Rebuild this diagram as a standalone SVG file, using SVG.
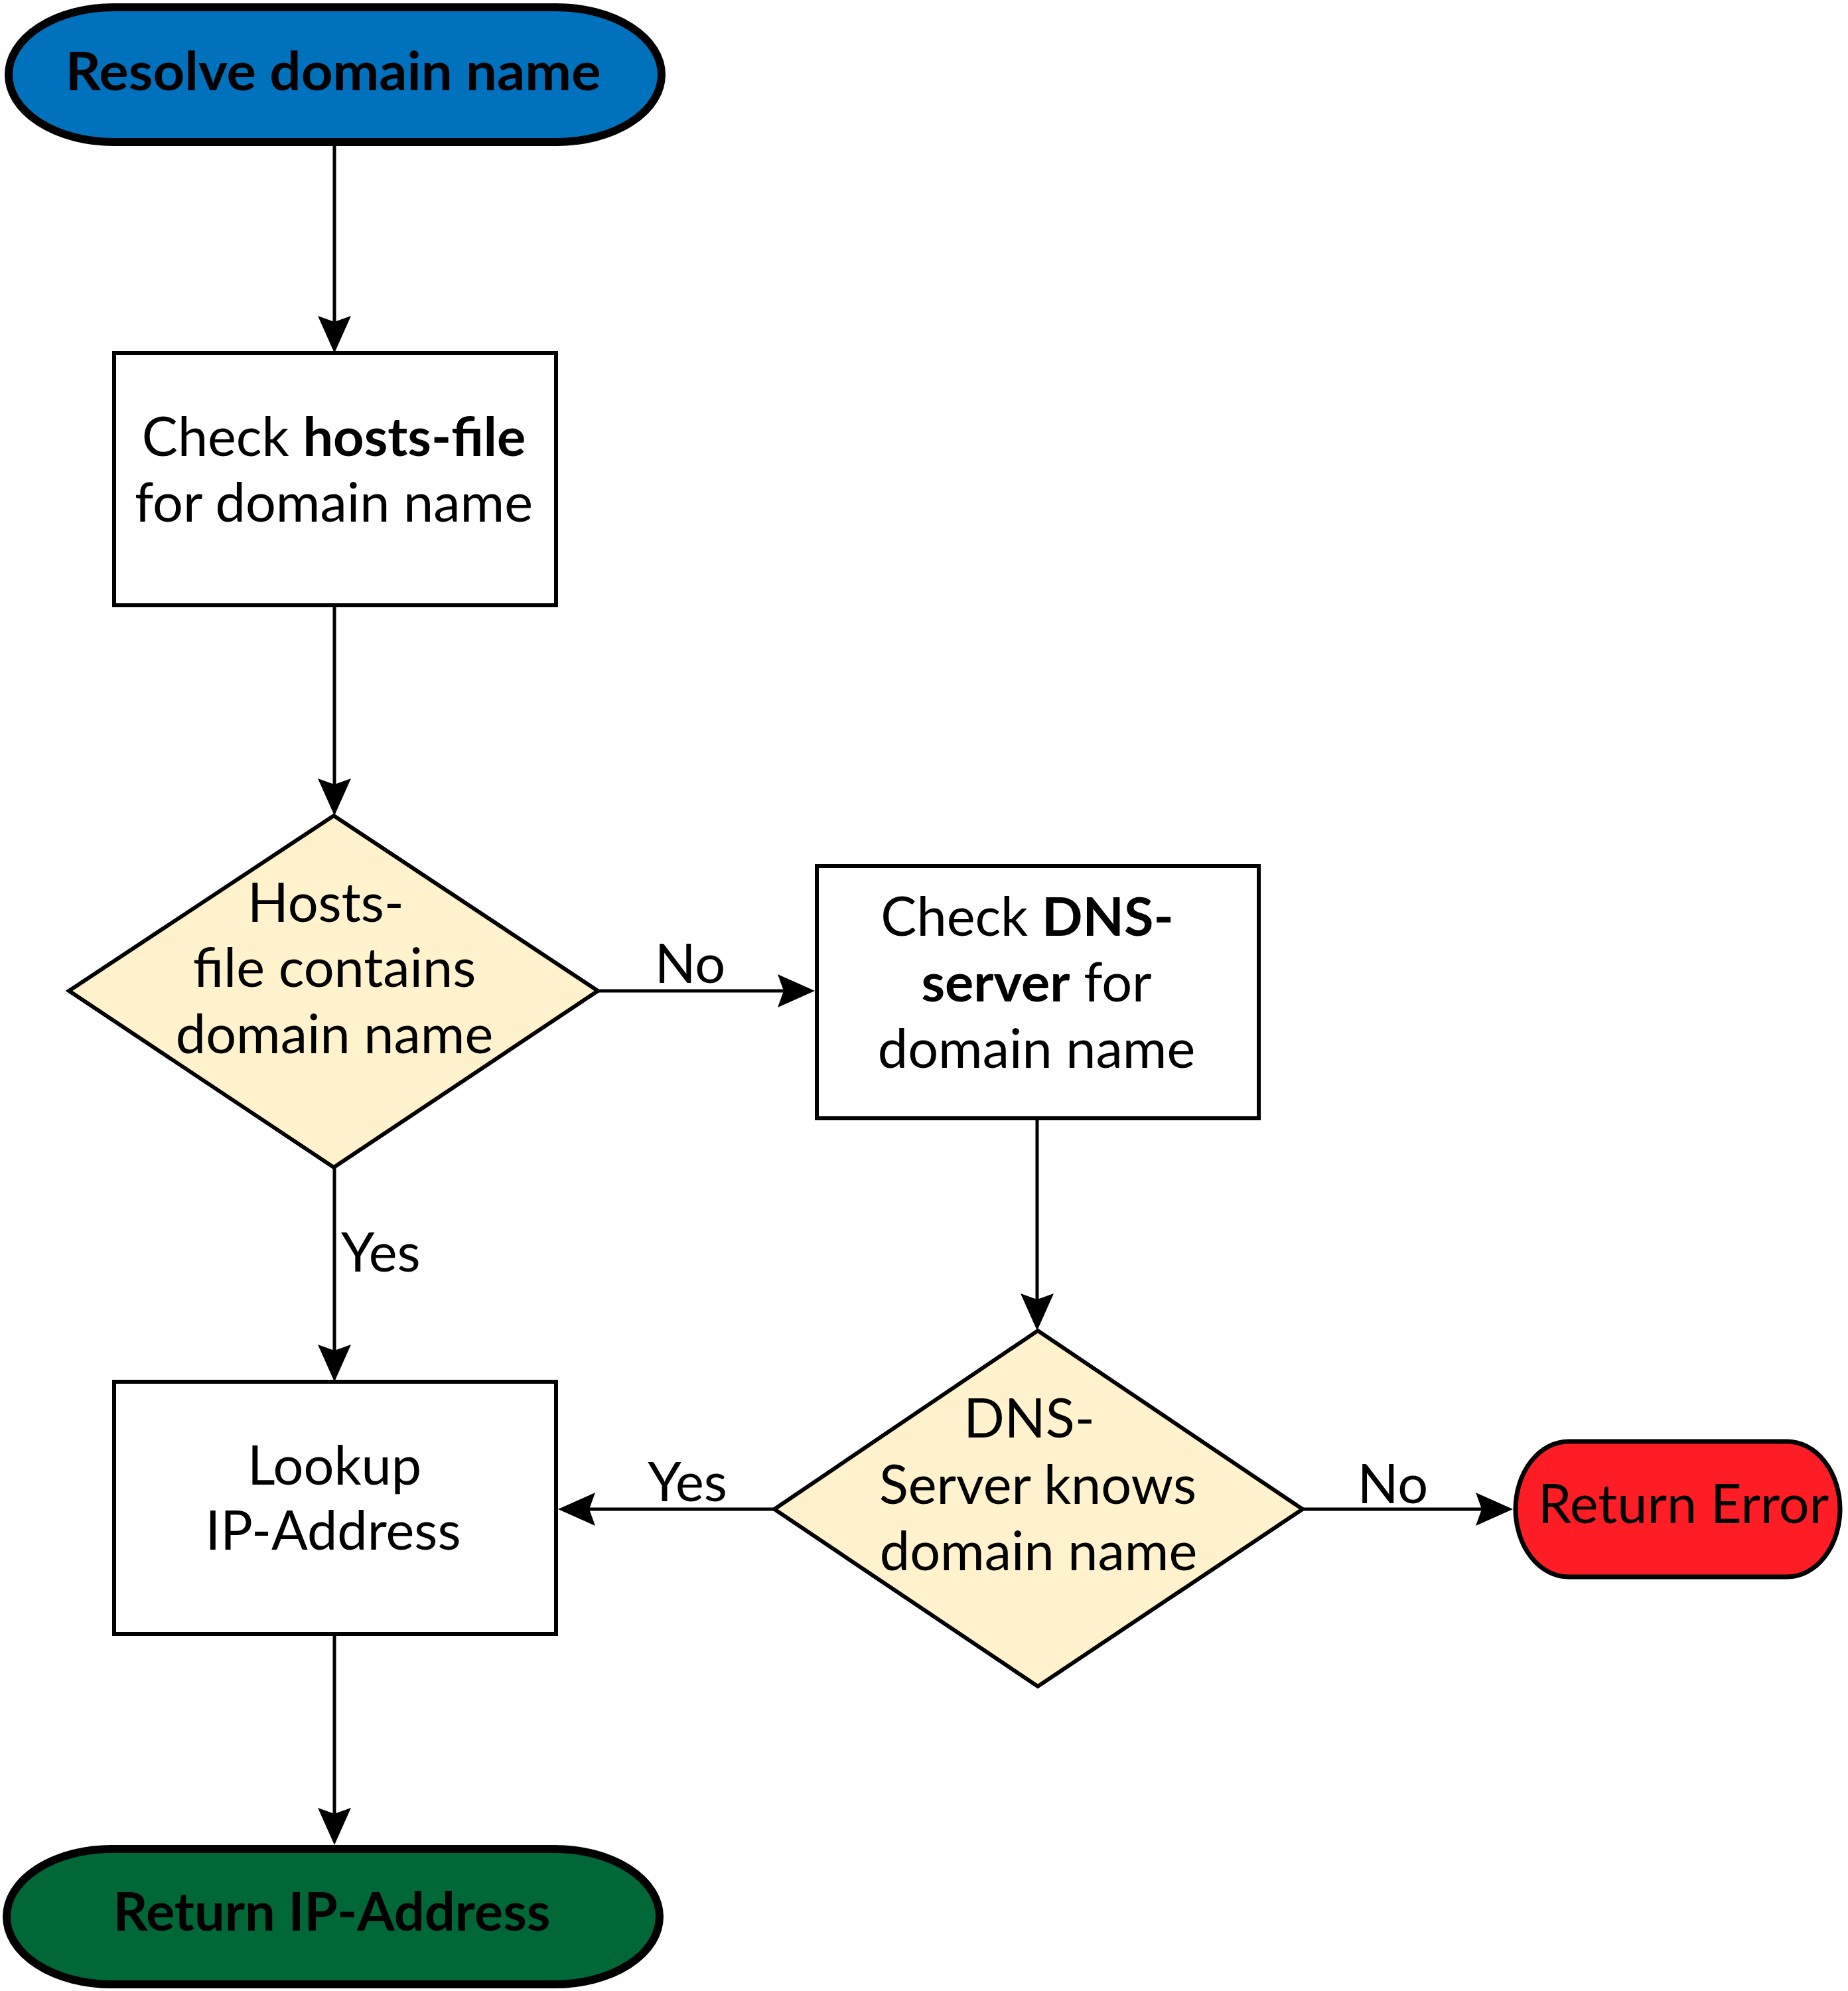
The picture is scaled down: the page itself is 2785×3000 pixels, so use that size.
<svg xmlns="http://www.w3.org/2000/svg" width="2785" height="3000" viewBox="0 0 2785 3000">
<defs>
<style>
text{font-family:Lato,"Open Sans","Liberation Sans",sans-serif;font-size:81px;fill:#000;text-anchor:middle}
.b{font-weight:bold}
.box{fill:#fff;stroke:#000;stroke-width:6}
.dec{fill:#FFF2CC;stroke:#000;stroke-width:6;stroke-linejoin:miter}
.term{stroke:#000;stroke-width:12}
.conn{fill:none;stroke:#000;stroke-width:5}
</style>
<marker id="ah" markerUnits="userSpaceOnUse" viewBox="-57 -26 58 52" refX="-47" refY="0" markerWidth="58" markerHeight="52" orient="auto">
<path d="M0,0 L-56,-25 L-47,0 L-56,25 Z" fill="#000"/>
</marker>
</defs>
<rect width="2785" height="3000" fill="#fff"/>
<g id="connectors">
<path class="conn" d="M504,220 V485" marker-end="url(#ah)"/>
<path class="conn" d="M504,912 V1182" marker-end="url(#ah)"/>
<path class="conn" d="M504,1759 V2035" marker-end="url(#ah)"/>
<path class="conn" d="M901,1493 H1181" marker-end="url(#ah)"/>
<path class="conn" d="M1563,1686 V1958" marker-end="url(#ah)"/>
<path class="conn" d="M1167,2274 H888" marker-end="url(#ah)"/>
<path class="conn" d="M1963,2274 H2233" marker-end="url(#ah)"/>
<path class="conn" d="M504,2462 V2733" marker-end="url(#ah)"/>
<text x="1040" y="1481">No</text>
<text x="514" y="1916" style="text-anchor:start">Yes</text>
<text x="1036" y="2262">Yes</text>
<text x="2099" y="2265">No</text>
</g>
<g id="start">
<rect class="term" x="13" y="11" width="984" height="203" rx="158" ry="101.5" fill="#0071BC"/>
<text class="b" x="502" y="136" textLength="807" lengthAdjust="spacingAndGlyphs">Resolve domain name</text>
</g>
<g id="check-hosts">
<rect class="box" x="172" y="532" width="666" height="380"/>
<text x="503" y="687">Check <tspan class="b">hosts-file</tspan></text>
<text x="503" y="786">for domain name</text>
</g>
<g id="hosts-decision">
<polygon class="dec" points="503,1229 901,1493 503,1759 104,1493"/>
<text x="491" y="1389">Hosts-</text>
<text x="504" y="1487">file contains</text>
<text x="504" y="1587">domain name</text>
</g>
<g id="check-dns">
<rect class="box" x="1231" y="1305" width="666" height="380"/>
<text x="1548" y="1410">Check <tspan class="b">DNS-</tspan></text>
<text x="1562" y="1509"><tspan class="b">server</tspan> for</text>
<text x="1562" y="1609">domain name</text>
</g>
<g id="dns-decision">
<polygon class="dec" points="1564,2005 1963,2274 1564,2541 1167,2274"/>
<text x="1551" y="2166">DNS-</text>
<text x="1564" y="2266">Server knows</text>
<text x="1565" y="2366">domain name</text>
</g>
<g id="lookup">
<rect class="box" x="172" y="2082" width="666" height="380"/>
<text x="504" y="2237">Lookup</text>
<text x="502" y="2335">IP-Address</text>
</g>
<g id="return-error">
<rect x="2284" y="2172" width="489" height="204" rx="80" ry="102" fill="#FF1D25" stroke="#000" stroke-width="7"/>
<text x="2537" y="2295">Return Error</text>
</g>
<g id="return-ip">
<rect class="term" x="10" y="2786" width="984" height="204" rx="158" ry="102" fill="#006837"/>
<text class="b" x="500" y="2909" textLength="659" lengthAdjust="spacingAndGlyphs">Return IP-Address</text>
</g>
</svg>
